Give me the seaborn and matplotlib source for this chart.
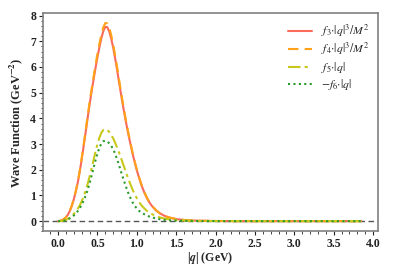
import numpy as np
import pandas as pd
import matplotlib
matplotlib.use("Agg")
import matplotlib.pyplot as plt
from matplotlib.ticker import AutoMinorLocator, MultipleLocator
import seaborn as sns

q = [0.000, 0.025, 0.050, 0.075, 0.100, 0.125, 0.150, 0.175, 0.200, 0.225,
     0.250, 0.275, 0.300, 0.325, 0.350, 0.375, 0.400, 0.425, 0.450, 0.475,
     0.500, 0.525, 0.550, 0.575, 0.600, 0.625, 0.650, 0.675, 0.700, 0.725,
     0.750, 0.775, 0.800, 0.825, 0.850, 0.875, 0.900, 0.925, 0.950, 0.975,
     1.000, 1.025, 1.050, 1.075, 1.100, 1.125, 1.150, 1.175, 1.200,
     1.25, 1.30, 1.35, 1.40, 1.50, 1.60, 1.70, 1.80, 2.00, 2.20, 2.50,
     3.00, 3.50, 3.85]
f3 = [0.00, 0.01, 0.04, 0.08, 0.15, 0.25, 0.40, 0.60, 0.85, 1.15,
      1.50, 1.92, 2.40, 2.92, 3.45, 4.00, 4.53, 5.03, 5.50, 5.95,
      6.38, 6.77, 7.12, 7.40, 7.56, 7.55, 7.38, 7.10, 6.75, 6.33,
      5.88, 5.40, 4.93, 4.48, 4.05, 3.65, 3.27, 2.92, 2.58, 2.27,
      1.98, 1.72, 1.48, 1.27, 1.08, 0.92, 0.78, 0.66, 0.56,
      0.40, 0.29, 0.21, 0.15, 0.08, 0.045, 0.025, 0.015, 0.006, 0.002, 0.0,
      0.0, 0.0, 0.0]
f4 = [0.00, 0.01, 0.04, 0.08, 0.15, 0.26, 0.41, 0.61, 0.87, 1.17,
      1.53, 1.96, 2.45, 2.98, 3.52, 4.08, 4.62, 5.13, 5.61, 6.07,
      6.51, 6.91, 7.26, 7.55, 7.71, 7.70, 7.53, 7.24, 6.88, 6.45,
      5.99, 5.50, 5.02, 4.56, 4.12, 3.71, 3.32, 2.96, 2.62, 2.30,
      2.01, 1.74, 1.50, 1.29, 1.10, 0.93, 0.79, 0.67, 0.57,
      0.41, 0.29, 0.21, 0.15, 0.08, 0.046, 0.026, 0.015, 0.006, 0.002, 0.0,
      0.0, 0.0, 0.0]
f5 = [0.00, 0.00, 0.01, 0.03, 0.05, 0.09, 0.14, 0.20, 0.28, 0.37,
      0.48, 0.61, 0.77, 0.96, 1.18, 1.44, 1.73, 2.04, 2.37, 2.70,
      3.00, 3.25, 3.44, 3.55, 3.58, 3.55, 3.47, 3.35, 3.22, 3.05,
      2.86, 2.66, 2.45, 2.23, 2.01, 1.79, 1.58, 1.38, 1.20, 1.04,
      0.89, 0.76, 0.65, 0.56, 0.48, 0.41, 0.35, 0.30, 0.26,
      0.19, 0.14, 0.10, 0.075, 0.042, 0.024, 0.014, 0.008, 0.003, 0.001, 0.0,
      0.0, 0.0, 0.0]
f6 = [0.00, 0.00, 0.01, 0.02, 0.04, 0.07, 0.11, 0.16, 0.22, 0.30,
      0.39, 0.50, 0.64, 0.80, 0.99, 1.21, 1.47, 1.76, 2.06, 2.36,
      2.63, 2.86, 3.02, 3.11, 3.13, 3.10, 3.03, 2.93, 2.80, 2.62,
      2.40, 2.17, 1.92, 1.68, 1.45, 1.23, 1.03, 0.86, 0.71, 0.59,
      0.49, 0.41, 0.35, 0.30, 0.26, 0.22, 0.19, 0.16, 0.14,
      0.10, 0.07, 0.05, 0.036, 0.02, 0.011, 0.006, 0.003, 0.001, 0.0, 0.0,
      0.0, 0.0, 0.0]

labels = [r"$f_3{\cdot}|q|^3/M^2$", r"$f_4{\cdot}|q|^3/M^2$",
          r"$f_5{\cdot}|q|$", r"$-f_6{\cdot}|q|$"]
colors = ["#fa6a5a", "#ffa21a", "#c8c81a", "#2a9a2a"]
styles = ["-", (0, (5, 3)), (0, (6, 2, 1.5, 2)), (0, (1, 1.6))]

sns.set_theme(style="ticks")
plt.rcParams["font.family"] = ["Liberation Serif", "DejaVu Serif"]
plt.rcParams["mathtext.fontset"] = "stix"

fig = plt.figure(figsize=(3.99, 2.66), dpi=100)
ax = fig.add_axes([0.108, 0.13, 0.839, 0.821])

ax.axhline(0, color="#555555", ls=(0, (4, 2.5)), lw=1.0, zorder=1)
for ys, lab, c, s in zip([f3, f4, f5, f6], labels, colors, styles):
    sns.lineplot(x=q, y=ys, ax=ax, color=c, lw=1.5, ls=s, label=lab)

ax.set_xlim(-0.19, 4.06)
ax.set_ylim(-0.4, 8.1)
ax.xaxis.set_major_locator(MultipleLocator(0.5))
ax.yaxis.set_major_locator(MultipleLocator(1))
ax.xaxis.set_minor_locator(AutoMinorLocator(5))
ax.yaxis.set_minor_locator(AutoMinorLocator(5))
ax.tick_params(which="major", direction="out", length=3, width=0.8, labelsize=8.5, pad=2,
               colors="#222222")
ax.tick_params(which="minor", direction="out", length=1.8, width=0.6)
for lbl in ax.get_xticklabels() + ax.get_yticklabels():
    lbl.set_fontweight("bold")
for sp in ax.spines.values():
    sp.set_visible(True)
    sp.set_color("#808080")
    sp.set_linewidth(1.2)

ax.set_xlabel(r"|$\mathbfit{q}$| (GeV)", fontsize=8.5, fontweight="bold", labelpad=0)
ax.set_ylabel(r"Wave Function (GeV$^{\mathbf{-2}}$)", fontsize=9, fontweight="bold", labelpad=4)

leg = ax.legend(loc="upper right", frameon=False, fontsize=8.5, handlelength=2.0,
                labelspacing=0.2, borderaxespad=0.3, bbox_to_anchor=(1.0, 0.995))

fig.savefig("out.png", dpi=100)
